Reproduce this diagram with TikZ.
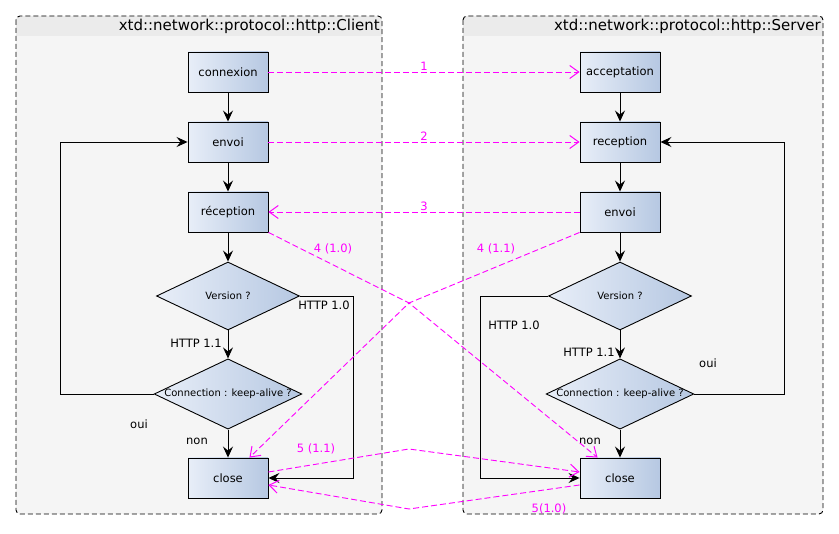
\documentclass[tikz,border=0pt]{standalone}
\usepackage{fontspec}
\setmainfont{DejaVu Sans}
\usetikzlibrary{arrows.meta, shapes.geometric, positioning}
\definecolor{boxleft}{HTML}{E8EEF8}
\definecolor{boxright}{HTML}{B6C8E2}
\definecolor{msgcol}{HTML}{FF00FF}
\definecolor{clusterbg}{HTML}{F5F5F5}
\definecolor{clusterhead}{HTML}{EBEBEB}
\tikzset{
  actbox/.style = {rectangle, draw=black, line width=0.9pt, left color=boxleft,
    right color=boxright, minimum width=80pt, minimum height=40pt, inner sep=0pt,
    font=\fontsize{11.5}{13}\selectfont},
  choice/.style = {diamond, draw=black, line width=0.9pt, left color=boxleft,
    right color=boxright, minimum width=143pt, minimum height=68pt, aspect=2.1,
    inner sep=0pt, font=\fontsize{10}{12}\selectfont},
  flow/.style = {draw=black, line width=0.9pt, -{Stealth[length=11pt, width=10pt, inset=4pt]}},
  msg/.style = {draw=msgcol, line width=0.9pt, dash pattern=on 6pt off 3pt,
    -{Straight Barb[length=9pt, width=13pt, line width=1pt]}},
  msglbl/.style = {text=msgcol, inner sep=1pt, font=\fontsize{11.5}{13}\selectfont},
  lbl/.style = {inner sep=1pt, font=\fontsize{11.5}{13}\selectfont},
  title/.style = {anchor=east, inner sep=0pt, font=\fontsize{15}{17}\selectfont},
  cluster/.style = {draw=black, dash pattern=on 5pt off 3pt, line width=0.9pt, rounded corners=4pt},
}
\begin{document}
\begin{tikzpicture}[x=1pt, y=-1pt]
\useasboundingbox (0,0) rectangle (839,534);

% clusters
\fill[clusterbg, rounded corners=4pt] (16,16) rectangle (382,514);
\fill[clusterhead] (16,36) [rounded corners=4pt] -- (16,16) -- (382,16) [sharp corners] -- (382,36) -- cycle;
\draw[cluster] (16,16) rectangle (382,514);
\node[title] (tclient) at (380,26) {xtd::network::protocol::http::Client};

\fill[clusterbg, rounded corners=4pt] (463,16) rectangle (823,514);
\fill[clusterhead] (463,36) [rounded corners=4pt] -- (463,16) -- (823,16) [sharp corners] -- (823,36) -- cycle;
\draw[cluster] (463,16) rectangle (823,514);
\node[title] (tserver) at (821,26) {xtd::network::protocol::http::Server};

% client side
\node[actbox] (cnx) at (228,72) {connexion};
\node[actbox] (envC) at (228,142) {envoi};
\node[actbox] (recC) at (228,212) {réception};
\node[choice] (verC) at (228,296) {Version ?};
\node[choice] (kaC) at (228,394) {Connection : keep-alive ?};
\node[actbox] (closeC) at (228,478) {close};

\draw[flow] (cnx) -- (envC);
\draw[flow] (envC) -- (recC);
\draw[flow] (recC) -- (verC);
\draw[flow] (verC) -- (kaC);
\draw[flow] (kaC) -- (closeC);
\draw[flow] (kaC.west) -- ++(-93,0) |- (envC.west);
\draw[flow] (verC.east) -- ++(53,0) |- (closeC.east);

\node[lbl] (v10C) at (324,305) {HTTP 1.0};
\node[lbl] (v11C) at (196,343) {HTTP 1.1};
\node[lbl] (ouiC) at (139,424) {oui};
\node[lbl] (nonC) at (197,441) {non};

% server side
\node[actbox] (acc) at (620,72) {acceptation};
\node[actbox] (recS) at (620,142) {reception};
\node[actbox] (envS) at (620,212) {envoi};
\node[choice] (verS) at (620,296) {Version ?};
\node[choice] (kaS) at (620,394) {Connection : keep-alive ?};
\node[actbox] (closeS) at (620,478) {close};

\draw[flow] (acc) -- (recS);
\draw[flow] (recS) -- (envS);
\draw[flow] (envS) -- (verS);
\draw[flow] (verS) -- (kaS);
\draw[flow] (kaS) -- (closeS);
\draw[flow] (verS.west) -- ++(-68,0) |- (closeS.west);
\draw[flow] (kaS.east) -- ++(90,0) |- (recS.east);

\node[lbl] (v10S) at (514,325) {HTTP 1.0};
\node[lbl] (v11S) at (589,352) {HTTP 1.1};
\node[lbl] (ouiS) at (708,363) {oui};
\node[lbl] (nonS) at (590,441) {non};

% messages
\coordinate (x4) at (409,303);
\coordinate (x5a) at (409,449);
\coordinate (x5b) at (409,509);
\draw[msg] (cnx.east) -- (acc.west) node[msglbl, midway, above] {1};
\draw[msg] (envC.east) -- (recS.west) node[msglbl, midway, above] {2};
\draw[msg] (envS.west) -- (recC.east) node[msglbl, midway, above] {3};
\draw[msg] (recC.south east) -- (x4) -- ([xshift=18pt]closeS.north west);
\draw[msg] (envS.south west) -- (x4) -- ([xshift=-19pt]closeC.north east);
\draw[msg] ([yshift=6pt]closeC.east) -- (x5a) -- ([yshift=6pt]closeS.west);
\draw[msg] ([yshift=-7pt]closeS.west) -- (x5b) -- ([yshift=-7pt]closeC.east);

\node[msglbl] (m40) at (333,249) {4 (1.0)};
\node[msglbl] (m41) at (496,249) {4 (1.1)};
\node[msglbl] (m51) at (316,449) {5 (1.1)};
\node[msglbl] (m50) at (549,509) {5(1.0)};
\end{tikzpicture}
\end{document}
